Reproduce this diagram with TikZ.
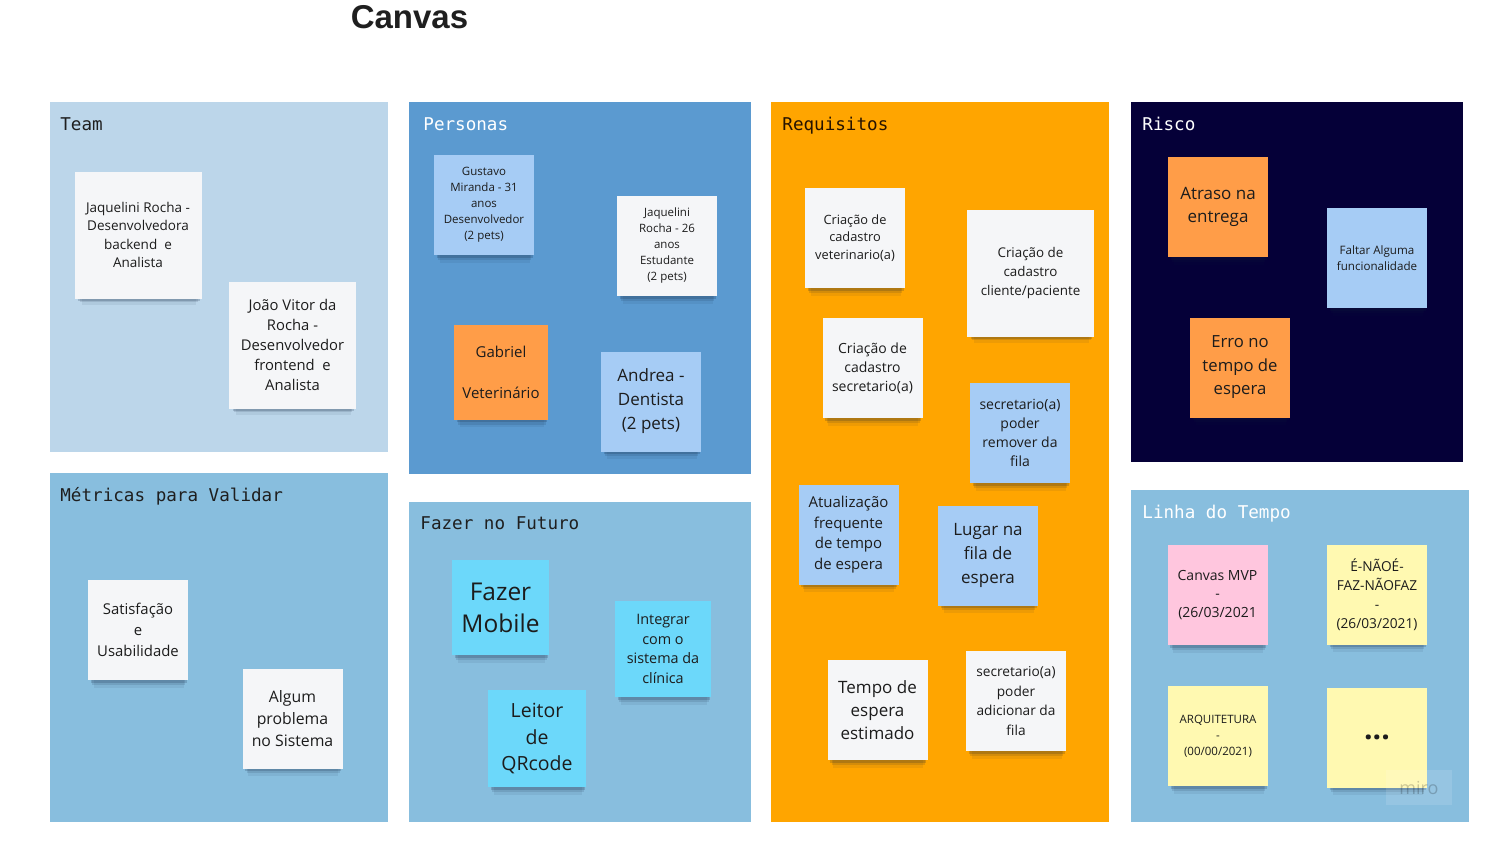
\documentclass[tikz,border=0pt]{standalone}
\usepackage{fontspec}
\usepackage{xcolor}
\usepackage{tikz}
\usetikzlibrary{shadows}
\newfontfamily\notefont{Open Sans}
\newfontfamily\titlefont{DejaVu Sans Mono}
\newfontfamily\headfont{Liberation Sans}
\definecolor{teamfill}{HTML}{BCD6EA}
\definecolor{personafill}{HTML}{5B9AD0}
\definecolor{lowfill}{HTML}{88BEDE}
\definecolor{reqfill}{HTML}{FFA500}
\definecolor{riskfill}{HTML}{050038}
\definecolor{notewhite}{HTML}{F5F6F8}
\definecolor{noteblue}{HTML}{A6CCF5}
\definecolor{noteorange}{HTML}{FF9D48}
\definecolor{notecyan}{HTML}{6CD8FA}
\definecolor{notepink}{HTML}{FFC6DE}
\definecolor{noteyellow}{HTML}{FFF9B1}
\definecolor{notetext}{HTML}{1C1C1C}
\definecolor{titletext}{HTML}{1F1F1F}
\definecolor{shadowtone}{HTML}{10203A}
\tikzset{
  panel/.style={rectangle,inner sep=0pt,outer sep=0pt,anchor=north west},
  paneltitle/.style={font=\titlefont\fontsize{8.8pt}{10pt}\selectfont,inner sep=0pt,anchor=base west},
  sticky/.style={rectangle,fill=#1,inner sep=0pt,outer sep=0pt,minimum width=50pt,
    minimum height=50pt,align=center,text=notetext,
    drop shadow={shadow xshift=0.5pt,shadow yshift=-7pt,shadow scale=0.9,opacity=0.07,fill=shadowtone},
    drop shadow={shadow xshift=0.5pt,shadow yshift=-4.5pt,shadow scale=0.93,opacity=0.12,fill=shadowtone},
    drop shadow={shadow xshift=0.5pt,shadow yshift=-2.5pt,shadow scale=0.96,opacity=0.18,fill=shadowtone}},
  bignote/.style={minimum width=63.5pt,minimum height=63.5pt},
  fsz/.style 2 args={font=\notefont\fontsize{#1}{#2}\selectfont}
}

\begin{document}
\begin{tikzpicture}[x=0.5pt,y=-0.5pt]
  \useasboundingbox[fill=white] (0,0) rectangle (1491,846);

  \node[font=\headfont\bfseries\fontsize{16.5pt}{18pt}\selectfont,text=titletext,anchor=base,inner sep=0pt] (title) at (409.5,28) {Canvas};

  % panels
  \node[panel,fill=teamfill,minimum width=169pt,minimum height=175pt] (team) at (50,102) {};
  \node[panel,fill=lowfill,minimum width=169pt,minimum height=174.5pt] (metricas) at (50,473) {};
  \node[panel,fill=personafill,minimum width=171pt,minimum height=186pt] (personas) at (409,102) {};
  \node[panel,fill=lowfill,minimum width=171pt,minimum height=160pt] (futuro) at (409,502) {};
  \node[panel,fill=reqfill,minimum width=169pt,minimum height=360pt] (requisitos) at (771,102) {};
  \node[panel,fill=riskfill,minimum width=166pt,minimum height=180pt] (risco) at (1131,102) {};
  \node[panel,fill=lowfill,minimum width=169pt,minimum height=166pt] (linha) at (1131,490) {};

  \node[paneltitle,text=titletext] at ([shift={(5pt,-14pt)}]team.north west) {Team};
  \node[paneltitle,text=titletext] at ([shift={(5pt,-14pt)}]metricas.north west) {Métricas para Validar};
  \node[paneltitle,text=white] at ([shift={(7pt,-14pt)}]personas.north west) {Personas};
  \node[paneltitle,text=titletext] at ([shift={(5.5pt,-13.5pt)}]futuro.north west) {Fazer no Futuro};
  \node[paneltitle,text=black!85!orange] at ([shift={(5.5pt,-14pt)}]requisitos.north west) {Requisitos};
  \node[paneltitle,text=white] at ([shift={(5.5pt,-14pt)}]risco.north west) {Risco};
  \node[paneltitle,text=white] at ([shift={(5.5pt,-14pt)}]linha.north west) {Linha do Tempo};

  % Team
  \node[sticky=notewhite,bignote,fsz={6.75pt}{9.25pt}] (tmA) at (138,235) {Jaquelini Rocha -\\Desenvolvedora\\backend\ \ e\\Analista};
  \node[sticky=notewhite,bignote,fsz={7.4pt}{10pt}] (tmB) at (292.5,345) {João Vitor da\\Rocha -\\Desenvolvedor\\frontend\ \ e\\Analista};

  % Personas
  \node[sticky=noteblue,fsz={5.75pt}{8pt}] (psA) at (484,205) {Gustavo\\Miranda - 31\\anos\\Desenvolvedor\\(2 pets)};
  \node[sticky=notewhite,fsz={5.75pt}{8pt}] (psB) at (667,246) {Jaquelini\\Rocha - 26\\anos\\Estudante\\(2 pets)};
  \node[sticky=noteorange,minimum width=47pt,minimum height=47.5pt,fsz={7.5pt}{10.25pt}] (psC) at (501,372) {Gabriel\\\mbox{}\\Veterinário};
  \node[sticky=noteblue,fsz={8.5pt}{12pt}] (psD) at (651,401.5) {Andrea -\\Dentista\\(2 pets)};

  % Requisitos
  \node[sticky=notewhite,fsz={6.4pt}{8.75pt}] (rqA) at (855,238) {Criação de\\cadastro\\veterinario(a)};
  \node[sticky=notewhite,bignote,fsz={6.7pt}{9.5pt}] (rqB) at (1030.5,273) {Criação de\\cadastro\\cliente/paciente};
  \node[sticky=notewhite,fsz={7pt}{9.5pt}] (rqC) at (872.5,368) {Criação de\\cadastro\\secretario(a)};
  \node[sticky=noteblue,fsz={7pt}{9.5pt}] (rqD) at (1020,433) {secretario(a)\\poder\\remover da\\fila};
  \node[sticky=noteblue,fsz={7.5pt}{10.25pt}] (rqE) at (848.5,534.5) {Atualização\\frequente\\de tempo\\de espera};
  \node[sticky=noteblue,fsz={8.5pt}{12pt}] (rqF) at (988,555.5) {Lugar na\\fila de\\espera};
  \node[sticky=notewhite,fsz={8.5pt}{11.5pt}] (rqG) at (877.5,710) {Tempo de\\espera\\estimado};
  \node[sticky=notewhite,fsz={6.85pt}{9.75pt}] (rqH) at (1016,701) {secretario(a)\\poder\\adicionar da\\fila};

  % Risco
  \node[sticky=noteorange,fsz={8.5pt}{11.5pt}] (rsA) at (1218,207) {Atraso na\\entrega};
  \node[sticky=noteblue,fsz={5.8pt}{7.75pt}] (rsB) at (1377,258) {Faltar Alguma\\funcionalidade};
  \node[sticky=noteorange,fsz={8.35pt}{11.75pt}] (rsC) at (1240,367.5) {Erro no\\tempo de\\espera};

  % Metricas
  \node[sticky=notewhite,fsz={7.45pt}{10.5pt}] (mtA) at (138,630) {Satisfação\\e\\Usabilidade};
  \node[sticky=notewhite,fsz={7.9pt}{11pt}] (mtB) at (292.5,718.5) {Algum\\problema\\no Sistema};

  % Fazer no Futuro
  \node[sticky=notecyan,minimum width=48.5pt,minimum height=47.5pt,fsz={12.25pt}{16pt}] (ftA) at (500.5,607.5) {Fazer\\Mobile};
  \node[sticky=notecyan,minimum width=48pt,minimum height=48pt,fsz={7.2pt}{9.75pt}] (ftB) at (663,649) {Integrar\\com o\\sistema da\\clínica};
  \node[sticky=notecyan,minimum width=49pt,minimum height=48.5pt,fsz={9.75pt}{13.25pt}] (ftC) at (537,738.5) {Leitor\\de\\QRcode};

  % Linha do Tempo
  \node[sticky=notepink,fsz={7pt}{9.25pt}] (lnA) at (1217.5,595) {Canvas MVP\\-\\(26/03/2021};
  \node[sticky=noteyellow,fsz={6.85pt}{9.5pt}] (lnB) at (1377,594.5) {É-NÃOÉ-\\FAZ-NÃOFAZ\\-\\(26/03/2021)};
  \node[sticky=noteyellow,fsz={5.75pt}{8pt}] (lnC) at (1218,736) {ARQUITETURA\\-\\(00/00/2021)};
  \node[sticky=noteyellow,fsz={15pt}{16pt}] (lnD) at (1377,737.5) {\bfseries...};

  \node[fill=white,fill opacity=0.12,text opacity=0.2,text=black,minimum width=33pt,minimum height=17.5pt,
    inner sep=0pt,font=\notefont\fontsize{9pt}{10pt}\selectfont] (miro) at (1419,787.5) {miro};
\end{tikzpicture}
\end{document}
